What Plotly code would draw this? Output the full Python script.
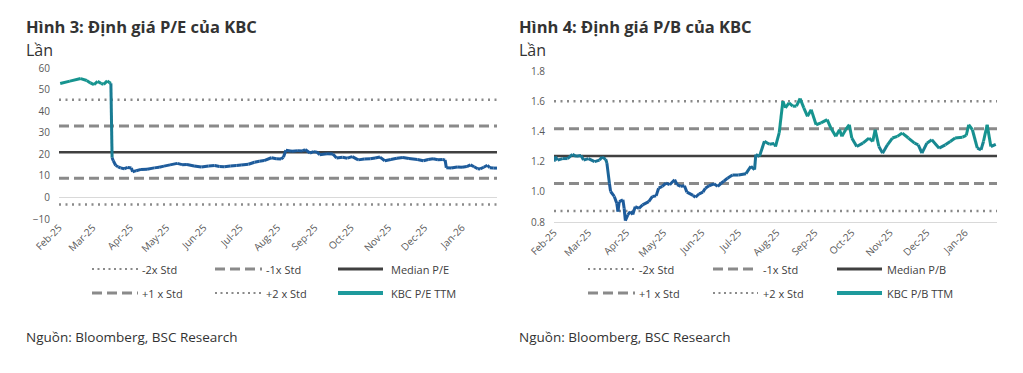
import pandas as pd
import plotly.graph_objects as go
from plotly.colors import find_intermediate_color, hex_to_rgb

W, H = 1023, 373
START = pd.Timestamp("2025-02-01")

# ---------------- data ----------------
# P/E TTM: days after 1 Feb 2025, value
pe_days = [1, 9, 18, 23, 26, 29, 32, 35, 37, 40, 42, 43, 44, 45, 47, 49, 51, 54, 57, 60,
           61, 64, 68, 73, 79, 83, 87, 92, 98, 102, 106, 112, 118, 124, 129, 133, 137, 142,
           147, 151, 157, 162, 166, 170, 176, 180, 184, 186, 188, 193, 198, 202, 204, 208,
           211, 214, 216, 222, 227, 230, 235, 239, 243, 248, 253, 258, 262, 266, 270, 275,
           280, 285, 290, 297, 302, 306, 310, 314, 318, 320, 321, 325, 330, 334, 338, 341,
           344, 347, 349, 352, 355, 357, 360, 363]
pe_values = [52.8, 53.9, 55.1, 54.2, 53.1, 52.3, 53.8, 52.8, 52.4, 54.0, 53.2, 52.9, 18.4,
             17.0, 14.8, 14.2, 13.7, 13.3, 13.9, 13.6, 11.9, 12.4, 13.0, 13.1, 13.7, 14.0,
             14.5, 15.1, 15.8, 15.2, 15.3, 14.6, 14.1, 14.6, 14.8, 14.3, 14.2, 14.6, 14.8,
             15.0, 15.4, 16.3, 16.8, 17.1, 18.4, 17.9, 17.8, 18.6, 21.9, 21.4, 21.7, 21.5,
             22.2, 20.6, 21.2, 21.0, 19.8, 20.2, 20.1, 18.3, 18.6, 18.2, 18.9, 17.4, 17.8,
             17.9, 18.3, 18.7, 17.0, 17.6, 18.2, 18.5, 18.0, 17.6, 17.0, 17.6, 17.9, 17.5,
             17.6, 17.3, 13.8, 13.6, 14.1, 14.0, 14.3, 15.1, 14.2, 13.3, 13.2, 14.0, 14.9,
             13.8, 13.6, 13.6]
pe_bands = {"-2x Std": -3.3, "-1x Std": 8.9, "Median P/E": 21.0,
            "+1 x Std": 33.1, "+2 x Std": 45.3}

# P/B TTM
pb_days = [0, 1, 3, 7, 11, 15, 18, 22, 24, 28, 33, 37, 39, 42, 43, 45, 46, 49, 51, 52, 53,
           56, 57, 58, 60, 62, 64, 66, 69, 72, 77, 80, 83, 85, 88, 91, 94, 98, 100, 103, 106,
           108, 113, 115, 118, 121, 123, 126, 130, 133, 136, 138, 141, 145, 150, 156, 160,
           163, 164, 167, 171, 175, 179, 180, 183, 186, 188, 191, 194, 197, 200, 203, 206,
           209, 213, 217, 222, 225, 229, 232, 234, 237, 240, 242, 246, 251, 256, 259, 261,
           264, 267, 271, 275, 279, 283, 288, 293, 296, 299, 303, 307, 313, 318, 322, 326,
           332, 335, 337, 340, 344, 347, 349, 352, 355, 359]
pb_values = [1.20, 1.233, 1.21, 1.22, 1.22, 1.248, 1.235, 1.24, 1.21, 1.22, 1.20, 1.21,
             1.23, 1.215, 1.19, 1.057, 1.002, 0.969, 0.924, 0.869, 0.935, 0.947, 0.891,
             0.809, 0.847, 0.869, 0.85, 0.902, 0.891, 0.913, 0.935, 0.969, 0.973, 1.024,
             1.036, 1.058, 1.047, 1.08, 1.047, 1.036, 1.04, 0.998, 0.976, 0.964, 0.987,
             0.998, 1.024, 1.04, 1.053, 1.036, 1.058, 1.07, 1.09, 1.111, 1.111, 1.12, 1.169,
             1.147, 1.247, 1.235, 1.335, 1.315, 1.32, 1.30, 1.39, 1.60, 1.556, 1.589, 1.567,
             1.567, 1.618, 1.556, 1.50, 1.544, 1.444, 1.456, 1.478, 1.422, 1.367, 1.411,
             1.367, 1.411, 1.444, 1.356, 1.30, 1.322, 1.356, 1.333, 1.411, 1.30, 1.256,
             1.311, 1.356, 1.367, 1.389, 1.356, 1.322, 1.311, 1.256, 1.322, 1.344, 1.289,
             1.311, 1.333, 1.356, 1.362, 1.373, 1.444, 1.411, 1.289, 1.278, 1.333, 1.444,
             1.30, 1.314]
pb_bands = {"-2x Std": 0.873, "-1x Std": 1.055, "Median P/B": 1.237,
            "+1 x Std": 1.418, "+2 x Std": 1.60}

pe_ticks = [-10, 0, 10, 20, 30, 40, 50, 60]
pb_ticks = [0.8, 1.0, 1.2, 1.4, 1.6, 1.8]

# ---------------- style ----------------
FONT = "Open Sans"
BLUE = "#1d5b9b"
TEAL = "#16948f"
LEG_TEAL = "#1e9a9c"
GREY = "#8a8a8a"
DARK = "#404040"
TXT = "#333333"

band_style = {
    "-2x Std": dict(color=GREY, width=2.5, dash="2px,4.5px"),
    "-1x Std": dict(color=GREY, width=3, dash="10px,5px"),
    "median": dict(color=DARK, width=2.5, dash="solid"),
    "+1 x Std": dict(color=GREY, width=3, dash="10px,5px"),
    "+2 x Std": dict(color=GREY, width=2.5, dash="2px,4.5px"),
}


def px(x):
    return x / W


def py(y):
    return 1 - y / H


def grad_color(v, lo, hi):
    t = (v - lo) / (hi - lo)
    t = min(max((t - 0.33) / 0.37, 0.0), 1.0)
    c = find_intermediate_color(hex_to_rgb(BLUE), hex_to_rgb(TEAL), t)
    return "rgb(%d,%d,%d)" % c


fig = go.Figure()


def add_chart(days, values, bands, xa, ya, xend):
    dates = [START + pd.Timedelta(days=d) for d in days]
    x0, x1 = START, pd.Timestamp(xend)
    for name, v in bands.items():
        st = band_style["median"] if name.startswith("Median") else band_style[name]
        fig.add_trace(go.Scatter(x=[x0, x1], y=[v, v], mode="lines", line=st,
                                 xaxis=xa, yaxis=ya, showlegend=False, hoverinfo="skip"))
    lo, hi = min(values), max(values)
    for i in range(len(values) - 1):
        c = grad_color((values[i] + values[i + 1]) / 2, lo, hi)
        fig.add_trace(go.Scatter(x=dates[i:i + 2], y=values[i:i + 2], mode="lines",
                                 line=dict(color=c, width=3), xaxis=xa, yaxis=ya,
                                 showlegend=False, hoverinfo="skip"))


add_chart(pe_days, pe_values, pe_bands, "x", "y", "2026-01-30")
add_chart(pb_days, pb_values, pb_bands, "x2", "y2", "2026-01-27")

tickfont = dict(family=FONT, size=10, color="#595959")
xcommon = dict(type="date", dtick="M1", tick0="2025-02-01", tickformat="%b-%y",
               tickangle=-45, tickfont=tickfont, showgrid=False, zeroline=False,
               ticks="", fixedrange=True, automargin=False)

fig.update_layout(
    width=W, height=H, margin=dict(l=0, r=0, t=0, b=0, autoexpand=False),
    paper_bgcolor="white", plot_bgcolor="white", showlegend=False,
    xaxis=dict(domain=[px(59), px(497)], range=["2025-02-01", "2026-01-30"],
               anchor="y", **xcommon),
    yaxis=dict(domain=[py(219), py(68)], range=[-10, 60], tickvals=pe_ticks,
               tickfont=tickfont, showgrid=False, zeroline=True, zerolinecolor="#d9d9d9",
               zerolinewidth=1, ticks="", anchor="x", fixedrange=True, automargin=False,
               ticklabelstandoff=8),
    xaxis2=dict(domain=[px(554), px(997)], range=["2025-02-01", "2026-01-27"],
                anchor="y2", showline=True, linecolor="#d9d9d9", linewidth=1, **xcommon),
    yaxis2=dict(domain=[py(222), py(71)], range=[0.8, 1.8], tickvals=pb_ticks,
                tickformat=".1f", tickfont=tickfont, showgrid=False, zeroline=False,
                ticks="", anchor="x2", fixedrange=True, automargin=False,
                ticklabelstandoff=8),
)

annotations = []
shapes = []


def text(x, y, s, size, bold=False, color=TXT):
    annotations.append(dict(x=px(x), y=py(y), xref="paper", yref="paper", text=s,
                            showarrow=False, xanchor="left", yanchor="middle",
                            font=dict(family=FONT, size=size, color=color,
                                      weight="bold" if bold else "normal")))


# titles
text(24, 26.5, "Hình 3: Định giá P/E của KBC", 16.5, bold=True)
text(24, 50.5, "Lần", 16)
text(517, 26.5, "Hình 4: Định giá P/B của KBC", 16.5, bold=True)
text(517, 50.5, "Lần", 16)
# sources
text(24, 337, "Nguồn: Bloomberg, BSC Research", 13.5)
text(517, 337, "Nguồn: Bloomberg, BSC Research", 13.5)


def legend(cols, names, last_name):
    rows = [269, 293]
    items = [
        (0, 0, names[0], dict(color=GREY, width=2, dash="2px,3.5px")),
        (0, 1, names[1], band_style["-1x Std"]),
        (0, 2, names[2], dict(color=DARK, width=3, dash="solid")),
        (1, 0, names[3], band_style["+1 x Std"]),
        (1, 1, names[4], dict(color=GREY, width=2, dash="2px,3.5px")),
        (1, 2, last_name, dict(color=LEG_TEAL, width=4, dash="solid")),
    ]
    for r, c, name, st in items:
        sx0, sx1, tx = cols[c]
        y = rows[r]
        shapes.append(dict(type="line", xref="paper", yref="paper", x0=px(sx0), x1=px(sx1),
                           y0=py(y), y1=py(y), line=st))
        text(tx, y, name, 11, color="#404040")


legend([(92, 138, 140), (215, 262, 264), (338, 383, 389)],
       list(pe_bands.keys()), "KBC P/E TTM")
legend([(588, 635, 637), (713, 758, 761), (837, 882, 885)],
       list(pb_bands.keys()), "KBC P/B TTM")

fig.update_layout(annotations=annotations, shapes=shapes)
fig.write_html("out.html", config={"displayModeBar": False},
               post_script="document.body.style.margin='0px';"
                           "document.body.style.overflow='hidden';")
